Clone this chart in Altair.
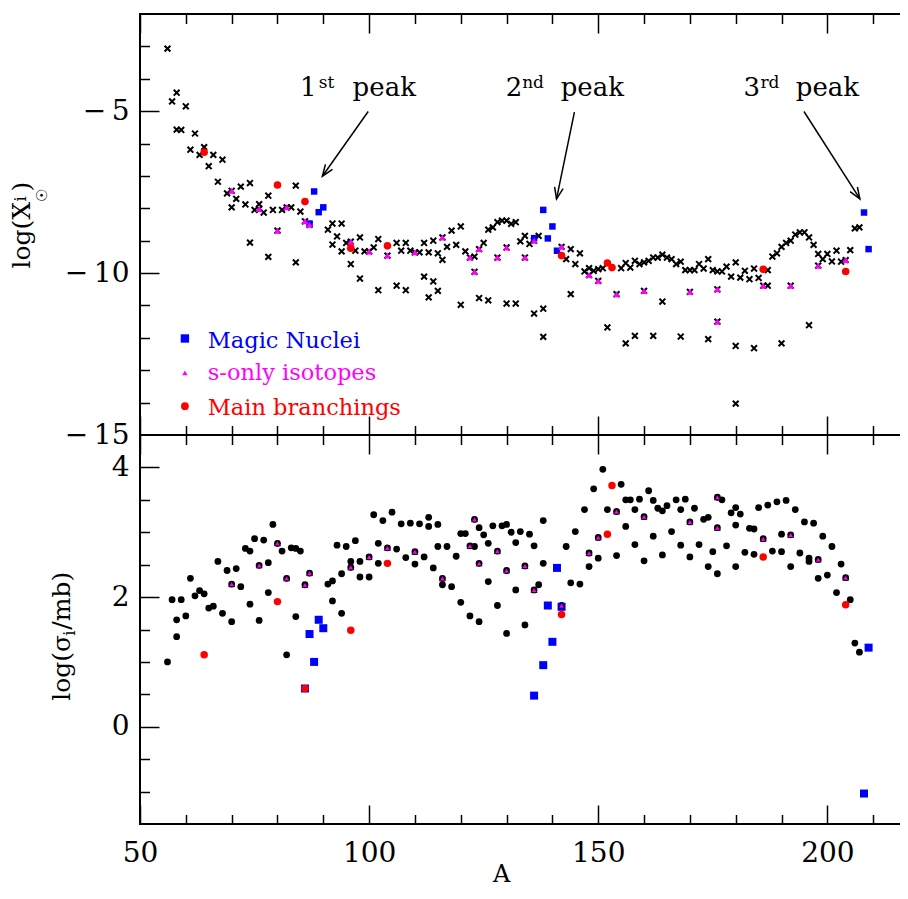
import math
import altair as alt
import pandas as pd

FONT = "DejaVu Serif"
BLACK, BLUE, MAGENTA, RED = "#000000", "#0000ff", "#ff00ff", "#ff0000"

# ---------------- values ----------------
# upper panel: log of solar abundance, all isotopes (crosses)
TOP_ALL_A = [56, 57, 58, 60, 58, 59, 62, 61, 64, 63,
             66, 68, 65, 67, 69, 71, 72, 74, 70, 73,
             76, 75, 77, 74, 78, 79, 78, 81, 83, 84,
             85, 84, 91, 92, 94, 93, 92, 95, 94, 96,
             98, 97, 99, 101, 102, 98, 102, 106, 108, 113,
             106, 107, 108, 109, 111, 112, 113, 114, 115, 116,
             117, 118, 119, 120, 121, 123, 125, 126, 127, 128,
             129, 130, 131, 132, 133, 134, 135, 137, 136, 138,
             138, 144, 144, 143, 145, 146, 147, 148, 149, 150,
             151, 152, 155, 156, 157, 158, 159, 160, 161, 162,
             163, 156, 158, 162, 164, 112, 114, 115, 120, 124,
             126, 130, 132, 164, 165, 166, 167, 168, 169, 170,
             171, 172, 173, 174, 175, 176, 177, 178, 179, 180,
             181, 182, 183, 184, 185, 187, 187, 188, 189, 190,
             191, 192, 193, 194, 195, 196, 197, 198, 199, 200,
             201, 202, 203, 205, 206, 207, 168, 174, 180, 180,
             184, 190, 196]
TOP_ALL_V = [-3.07, -4.70, -4.43, -4.85, -5.57, -5.58, -5.69, -6.19, -6.11, -6.35,
             -6.35, -6.50, -6.70, -7.18, -7.54, -7.71, -7.33, -7.22, -7.97, -7.88,
             -7.87, -8.05, -8.13, -9.06, -7.61, -8.05, -9.50, -8.05, -7.97, -7.30,
             -8.10, -9.67, -8.66, -8.47, -8.47, -8.87, -9.12, -9.07, -9.33, -9.72,
             -8.90, -9.31, -9.33, -9.21, -8.95, -10.17, -10.53, -10.39, -10.53, -10.75,
             -9.07, -9.31, -9.07, -9.31, -9.36, -9.07, -9.36, -9.00, -9.39, -9.59,
             -9.19, -8.69, -9.13, -8.56, -9.33, -9.49, -9.07, -8.66, -8.59, -8.43,
             -8.38, -8.38, -8.48, -8.43, -9.02, -8.85, -9.10, -8.85, -11.25, -11.10,
             -11.97, -9.26, -10.65, -9.57, -9.72, -9.39, -9.95, -9.85, -9.93, -9.88,
             -9.85, -11.68, -9.85, -9.69, -9.83, -9.62, -9.72, -9.67, -9.62, -9.52,
             -9.52, -12.17, -11.94, -11.94, -10.88, -10.11, -10.26, -10.55, -10.98, -10.77,
             -10.84, -10.94, -10.94, -9.43, -9.52, -9.57, -9.72, -9.65, -9.91, -9.91,
             -9.91, -9.72, -9.86, -9.57, -9.91, -9.95, -9.95, -9.80, -10.11, -9.67,
             -10.14, -9.93, -10.19, -9.86, -10.15, -9.91, -10.39, -9.49, -9.39, -9.19,
             -9.07, -9.00, -8.81, -8.74, -8.74, -8.90, -9.13, -9.41, -9.57, -9.41,
             -9.64, -9.31, -9.65, -9.29, -8.62, -8.59, -11.96, -12.04, -12.25, -14.03,
             -12.32, -12.17, -11.61]

# lower panel: log of the cross section, all isotopes (black dots)
BOT_ALL_A = [56, 57, 58, 58, 59, 60, 61, 62, 63, 64,
             65, 66, 67, 68, 69, 70, 71, 72, 73, 74,
             74, 75, 76, 77, 78, 78, 79, 81, 82, 83,
             84, 85, 84, 91, 92, 92, 93, 94, 94, 95,
             96, 97, 98, 98, 100, 101, 102, 102, 103, 105,
             106, 107, 108, 109, 110, 111, 112, 113, 113, 114,
             115, 115, 116, 117, 118, 119, 120, 120, 121, 122,
             123, 124, 124, 125, 126, 126, 127, 128, 129, 130,
             130, 131, 132, 132, 133, 134, 135, 136, 137, 138,
             138, 143, 144, 145, 146, 147, 148, 149, 150, 151,
             152, 154, 155, 156, 157, 156, 158, 158, 159, 160,
             161, 162, 162, 163, 164, 164, 165, 166, 167, 168,
             168, 169, 170, 171, 172, 173, 174, 174, 175, 176,
             177, 178, 179, 180, 180, 180, 181, 182, 183, 184,
             184, 185, 187, 188, 189, 190, 190, 191, 192, 193,
             194, 195, 196, 196, 197, 198, 199, 200, 201, 202,
             203, 205, 206, 207]
BOT_ALL_V = [1.00, 1.96, 1.65, 1.39, 1.96, 1.71, 2.29, 2.02, 2.10, 2.05,
             1.83, 1.86, 2.55, 1.75, 2.41, 1.62, 2.44, 2.16, 2.75, 1.89,
             2.71, 2.90, 1.64, 2.88, 2.53, 2.07, 3.12, 2.71, 1.11, 2.76,
             2.75, 2.71, 1.70, 2.20, 2.25, 1.94, 2.80, 1.75, 2.36, 2.78,
             2.55, 2.87, 2.55, 2.31, 2.31, 3.27, 2.83, 2.52, 3.18, 3.31,
             2.74, 3.13, 2.61, 3.14, 2.51, 3.13, 2.62, 3.23, 3.09, 2.45,
             3.12, 2.78, 2.19, 2.78, 2.16, 2.63, 1.92, 2.98, 2.98, 1.71,
             2.78, 3.07, 1.62, 2.96, 2.83, 2.24, 3.10, 1.87, 3.10, 3.12,
             1.44, 3.00, 2.84, 2.11, 3.01, 1.57, 2.97, 2.79, 2.19, 3.18,
             2.52, 2.78, 2.22, 3.01, 2.20, 3.35, 2.47, 3.67, 2.60, 3.97,
             3.35, 2.64, 3.74, 3.50, 3.50, 3.09, 3.35, 2.81, 3.51, 2.56,
             3.64, 3.49, 2.94, 3.37, 2.65, 3.33, 3.41, 3.01, 3.50, 3.35,
             2.80, 3.51, 2.62, 3.37, 2.81, 3.20, 3.23, 2.47, 2.70, 2.36,
             3.50, 2.79, 3.30, 3.38, 3.11, 2.47, 3.28, 2.69, 3.06, 3.05,
             2.66, 3.38, 3.42, 2.71, 3.47, 2.97, 2.70, 3.49, 2.47, 3.35,
             2.68, 3.16, 2.60, 2.55, 3.14, 2.29, 2.94, 2.34, 2.78, 2.07,
             2.51, 1.96, 1.29, 1.15]

# s-only isotopes (magenta triangles)
SONLY_A = [70, 76, 80, 82, 86, 87, 96, 100, 104, 110, 116, 122, 123, 124, 128,
           130, 134, 136, 142, 148, 150, 154, 160, 170, 176, 176, 186, 192, 198, 204]
TOP_SONLY_V = [-7.46, -8.02, -8.69, -7.97, -8.40, -8.51, -9.03, -9.33, -9.46, -9.36,
               -8.90, -9.52, -9.96, -9.26, -9.52, -9.21, -9.52, -9.00, -9.19, -10.06,
               -10.24, -10.65, -10.55, -10.58, -10.50, -11.50, -10.39, -10.39, -9.77, -9.60]
BOT_SONLY_V = [2.20, 2.49, 2.83, 2.29, 2.19, 2.37, 2.46, 2.62, 2.76, 2.70,
               2.29, 2.79, 3.20, 2.52, 2.71, 2.41, 2.48, 2.11, 1.87, 2.68,
               2.92, 3.32, 3.24, 3.16, 3.54, 3.07, 2.90, 2.96, 2.58, 2.30]

# main branchings (red dots)
BRANCH_A = [64, 80, 86, 96, 104, 142, 152, 153, 186, 204]
TOP_BRANCH_V = [-6.27, -7.28, -7.79, -9.23, -9.16, -9.46, -9.69, -9.83, -9.88, -9.95]
BOT_BRANCH_V = [1.11, 1.93, 0.59, 1.49, 2.52, 1.73, 2.97, 3.72, 2.62, 1.88]

# magic nuclei (blue squares)
TOP_MAGIC_A = [87, 88, 89, 90, 136, 138, 139, 140, 141, 208, 209]
TOP_MAGIC_V = [-8.47, -7.48, -8.12, -7.97, -8.92, -8.05, -8.93, -8.56, -9.31, -8.13, -9.26]
BOT_MAGIC_A = [86, 87, 88, 89, 90, 136, 138, 139, 140, 141, 142, 208, 209]
BOT_MAGIC_V = [0.59, 1.43, 1.00, 1.65, 1.52, 0.48, 0.95, 1.87, 1.31, 2.45, 1.85, -1.03, 1.22]

LEGEND_LABELS = ["Magic Nuclei", "s-only isotopes", "Main branchings"]
PEAK_NUM = ["1", "2", "3"]
PEAK_SUP = ["st", "nd", "rd"]
PEAK_WORD = ["peak", "peak", "peak"]

# axes
X_DOMAIN = [50, 220]
TOP_DOMAIN = [-15, -2]
BOT_DOMAIN = [-1.5, 4.5]
X_MAJOR = [50, 100, 150, 200]
X_MINOR = [60, 70, 80, 90, 110, 120, 130, 140, 160, 170, 180, 190, 210]
TOP_LABELS = [-15, -10, -5]
TOP_MAJOR = [-10, -5]
TOP_MINOR = [-14, -13, -12, -11, -9, -8, -7, -6, -4, -3]
BOT_LABELS = [0, 2, 4]
BOT_MAJOR = [0, 2, 4]
BOT_MINOR = [-1, -0.5, 0.5, 1, 1.5, 2.5, 3, 3.5]

# annotation anchors (data units)
LEG_SYM_A = 59.8
LEG_SYM_V = [-12.02, -13.08, -14.11]
LEG_TXT_A = 64.8
LEG_TXT_V = [-12.30, -13.31, -14.39]
NUM_A = [84.9, 129.8, 181.7]
SUP_A = [89.0, 133.4, 185.4]
WORD_A = [96.4, 141.8, 193.1]
TEXT_V = -4.53
SUP_V = -4.30
ARROW_A1 = [99.8, 144.8, 194.9]
ARROW_V1 = [-5.01, -5.03, -5.01]
ARROW_A2 = [89.8, 140.9, 207.1]
ARROW_V2 = [-7.01, -7.71, -7.71]

# ---------------- layout / style ----------------
W, H_TOP, H_BOT = 779, 421, 389
MAJ, MIN = 19, 9.5
CROSS = "M-1,-1L1,1M-1,1L1,-1"
CHEVRON = "M-0.38,1L0,0L0.38,1"

xs = alt.Scale(domain=X_DOMAIN, nice=False, zero=False)
yts = alt.Scale(domain=TOP_DOMAIN, nice=False, zero=False)
ybs = alt.Scale(domain=BOT_DOMAIN, nice=False, zero=False)

LABEL_EXPR = ("datum.value < 0 ? '\u2212\u2009' + format(-datum.value, 'd') "
              ": format(datum.value, 'd')")


def X(field, axis=None):
    return alt.X(field, type="quantitative", scale=xs, axis=axis)


def Y(field, scale, axis=None):
    return alt.Y(field, type="quantitative", scale=scale, axis=axis)


def tick_axis(orient, values, length):
    return alt.Axis(orient=orient, values=values, ticks=True, tickSize=length,
                    offset=-length, tickColor=BLACK, tickWidth=1.5, labels=False,
                    domain=False, grid=False, title=None, minExtent=0)


def label_axis(orient, values, pad):
    return alt.Axis(orient=orient, values=values, labelExpr=LABEL_EXPR, ticks=False,
                    tickSize=0, domain=False, grid=False, title=None, labels=True,
                    labelFont=FONT, labelFontSize=28, labelColor=BLACK,
                    labelPadding=pad, labelFlush=False, labelOverlap=False, minExtent=0)


def axis_layers(df, yscale, y_labels, y_major, y_minor, x_labels):
    base = alt.Chart(df).mark_point(opacity=0)
    layers = [base.encode(
        x=X("A", label_axis("bottom", X_MAJOR, 15) if x_labels else None),
        y=Y("v", yscale, label_axis("left", y_labels, 11)))]
    for xo, yo in (("bottom", "left"), ("top", "right")):
        layers.append(base.encode(x=X("A", tick_axis(xo, X_MAJOR, MAJ)),
                                  y=Y("v", yscale, tick_axis(yo, y_major, MAJ))))
        layers.append(base.encode(x=X("A", tick_axis(xo, X_MINOR, MIN)),
                                  y=Y("v", yscale, tick_axis(yo, y_minor, MIN))))
    return layers


def points(A, v, yscale, **mark):
    df = pd.DataFrame({"A": A, "v": v})
    return alt.Chart(df).mark_point(opacity=1, **mark).encode(x=X("A"), y=Y("v", yscale))


def rot_text(text, x, y, size, align="left"):
    return alt.Chart(pd.DataFrame({"t": [text]})).mark_text(
        angle=270, align=align, baseline="alphabetic", font=FONT, fontSize=size,
        color=BLACK).encode(x=alt.value(x), y=alt.value(y), text="t:N")


# ---------------- upper panel ----------------
top_df = pd.DataFrame({"A": TOP_ALL_A, "v": TOP_ALL_V})
top_layers = axis_layers(top_df, yts, TOP_LABELS, TOP_MAJOR, TOP_MINOR, False)
top_layers += [
    points(TOP_ALL_A + SONLY_A, TOP_ALL_V + TOP_SONLY_V, yts, shape=CROSS,
           filled=False, color=BLACK, strokeWidth=2.0, size=34),
    points(TOP_MAGIC_A, TOP_MAGIC_V, yts, shape="square", filled=True, color=BLUE, size=42),
    points(SONLY_A, TOP_SONLY_V, yts, shape="triangle-up", filled=True, color=MAGENTA, size=48),
    points(BRANCH_A, TOP_BRANCH_V, yts, shape="circle", filled=True, color=RED, size=58),
]

leg_shapes = ["square", "triangle-up", "circle"]
leg_colors = [BLUE, MAGENTA, RED]
leg_sizes = [70, 30, 60]
for i, lab in enumerate(LEGEND_LABELS):
    top_layers.append(points([LEG_SYM_A], [LEG_SYM_V[i]], yts, shape=leg_shapes[i],
                             filled=True, color=leg_colors[i], size=leg_sizes[i]))
    tdf = pd.DataFrame({"A": [LEG_TXT_A], "v": [LEG_TXT_V[i]], "t": [lab]})
    top_layers.append(alt.Chart(tdf).mark_text(
        align="left", baseline="alphabetic", font=FONT, fontSize=22.5,
        color=leg_colors[i]).encode(x=X("A"), y=Y("v", yts), text="t:N"))

# peak annotations
px_A = W / (X_DOMAIN[1] - X_DOMAIN[0])
px_V = H_TOP / (TOP_DOMAIN[1] - TOP_DOMAIN[0])
angles = []
for a1, v1, a2, v2 in zip(ARROW_A1, ARROW_V1, ARROW_A2, ARROW_V2):
    dx = (a2 - a1) * px_A
    dy = -(v2 - v1) * px_V
    angles.append(math.degrees(math.atan2(dx, -dy)) % 360)
arrows = pd.DataFrame({"A1": ARROW_A1, "v1": ARROW_V1, "A2": ARROW_A2, "v2": ARROW_V2,
                       "ang": angles})
top_layers.append(alt.Chart(arrows).mark_rule(color=BLACK, strokeWidth=1.5).encode(
    x=X("A1"), y=Y("v1", yts), x2="A2:Q", y2="v2:Q"))
top_layers.append(alt.Chart(arrows).mark_point(
    shape=CHEVRON, filled=False, color=BLACK, strokeWidth=1.5, size=520, opacity=1).encode(
    x=X("A2"), y=Y("v2", yts), angle=alt.Angle("ang:Q", scale=None)))

ann = pd.DataFrame({"num": PEAK_NUM, "sup": PEAK_SUP, "word": PEAK_WORD,
                    "nA": NUM_A, "sA": SUP_A, "wA": WORD_A,
                    "tv": [TEXT_V] * 3, "sv": [SUP_V] * 3})
ann_base = alt.Chart(ann)
top_layers += [
    ann_base.mark_text(align="left", baseline="alphabetic", font=FONT, fontSize=26,
                       color=BLACK).encode(x=X("nA"), y=Y("tv", yts), text="num:N"),
    ann_base.mark_text(align="left", baseline="alphabetic", font=FONT, fontSize=17,
                       color=BLACK).encode(x=X("sA"), y=Y("sv", yts), text="sup:N"),
    ann_base.mark_text(align="left", baseline="alphabetic", font=FONT, fontSize=26,
                       color=BLACK).encode(x=X("wA"), y=Y("tv", yts), text="word:N"),
]

# y title: log(X_sun^i)
top_layers += [
    rot_text("log(X", -110.3, 254.6, 25),
    rot_text("i", -114.0, 187.6, 16),
    rot_text("\u2609", -93.3, 187.6, 15),
    rot_text(")", -110.3, 177.6, 25),
]

top = alt.layer(*top_layers).resolve_axis(x="independent", y="independent").properties(
    width=W, height=H_TOP)

# ---------------- lower panel ----------------
bot_df = pd.DataFrame({"A": BOT_ALL_A, "v": BOT_ALL_V})
bot_layers = axis_layers(bot_df, ybs, BOT_LABELS, BOT_MAJOR, BOT_MINOR, True)
bot_layers += [
    points(BOT_ALL_A + SONLY_A, BOT_ALL_V + BOT_SONLY_V, ybs, shape="circle",
           filled=True, color=BLACK, size=46),
    points(BOT_MAGIC_A, BOT_MAGIC_V, ybs, shape="square", filled=True, color=BLUE, size=64),
    points(SONLY_A, BOT_SONLY_V, ybs, shape="triangle-up", filled=True, color=MAGENTA,
           stroke=BLACK, strokeWidth=0.8, size=36),
    points(BRANCH_A, BOT_BRANCH_V, ybs, shape="circle", filled=True, color=RED, size=56),
    rot_text("log(\u03c3", -70.3, 265.7, 25),
    rot_text("i", -65.3, 200.7, 16),
    rot_text("/mb)", -70.3, 194.7, 25),
    alt.Chart(pd.DataFrame({"t": ["A"]})).mark_text(
        align="center", baseline="alphabetic", font=FONT, fontSize=24, color=BLACK).encode(
        x=alt.value(361.7), y=alt.value(447.2), text="t:N"),
]

bottom = alt.layer(*bot_layers).resolve_axis(x="independent", y="independent").properties(
    width=W, height=H_BOT)

chart = alt.vconcat(top, bottom, spacing=0, bounds="flush").properties(
    padding={"left": 0, "top": 4, "right": -21, "bottom": -1}
).configure_view(stroke=BLACK, strokeWidth=2)

chart.save("out.html", embed_options={"renderer": "svg", "actions": False})
